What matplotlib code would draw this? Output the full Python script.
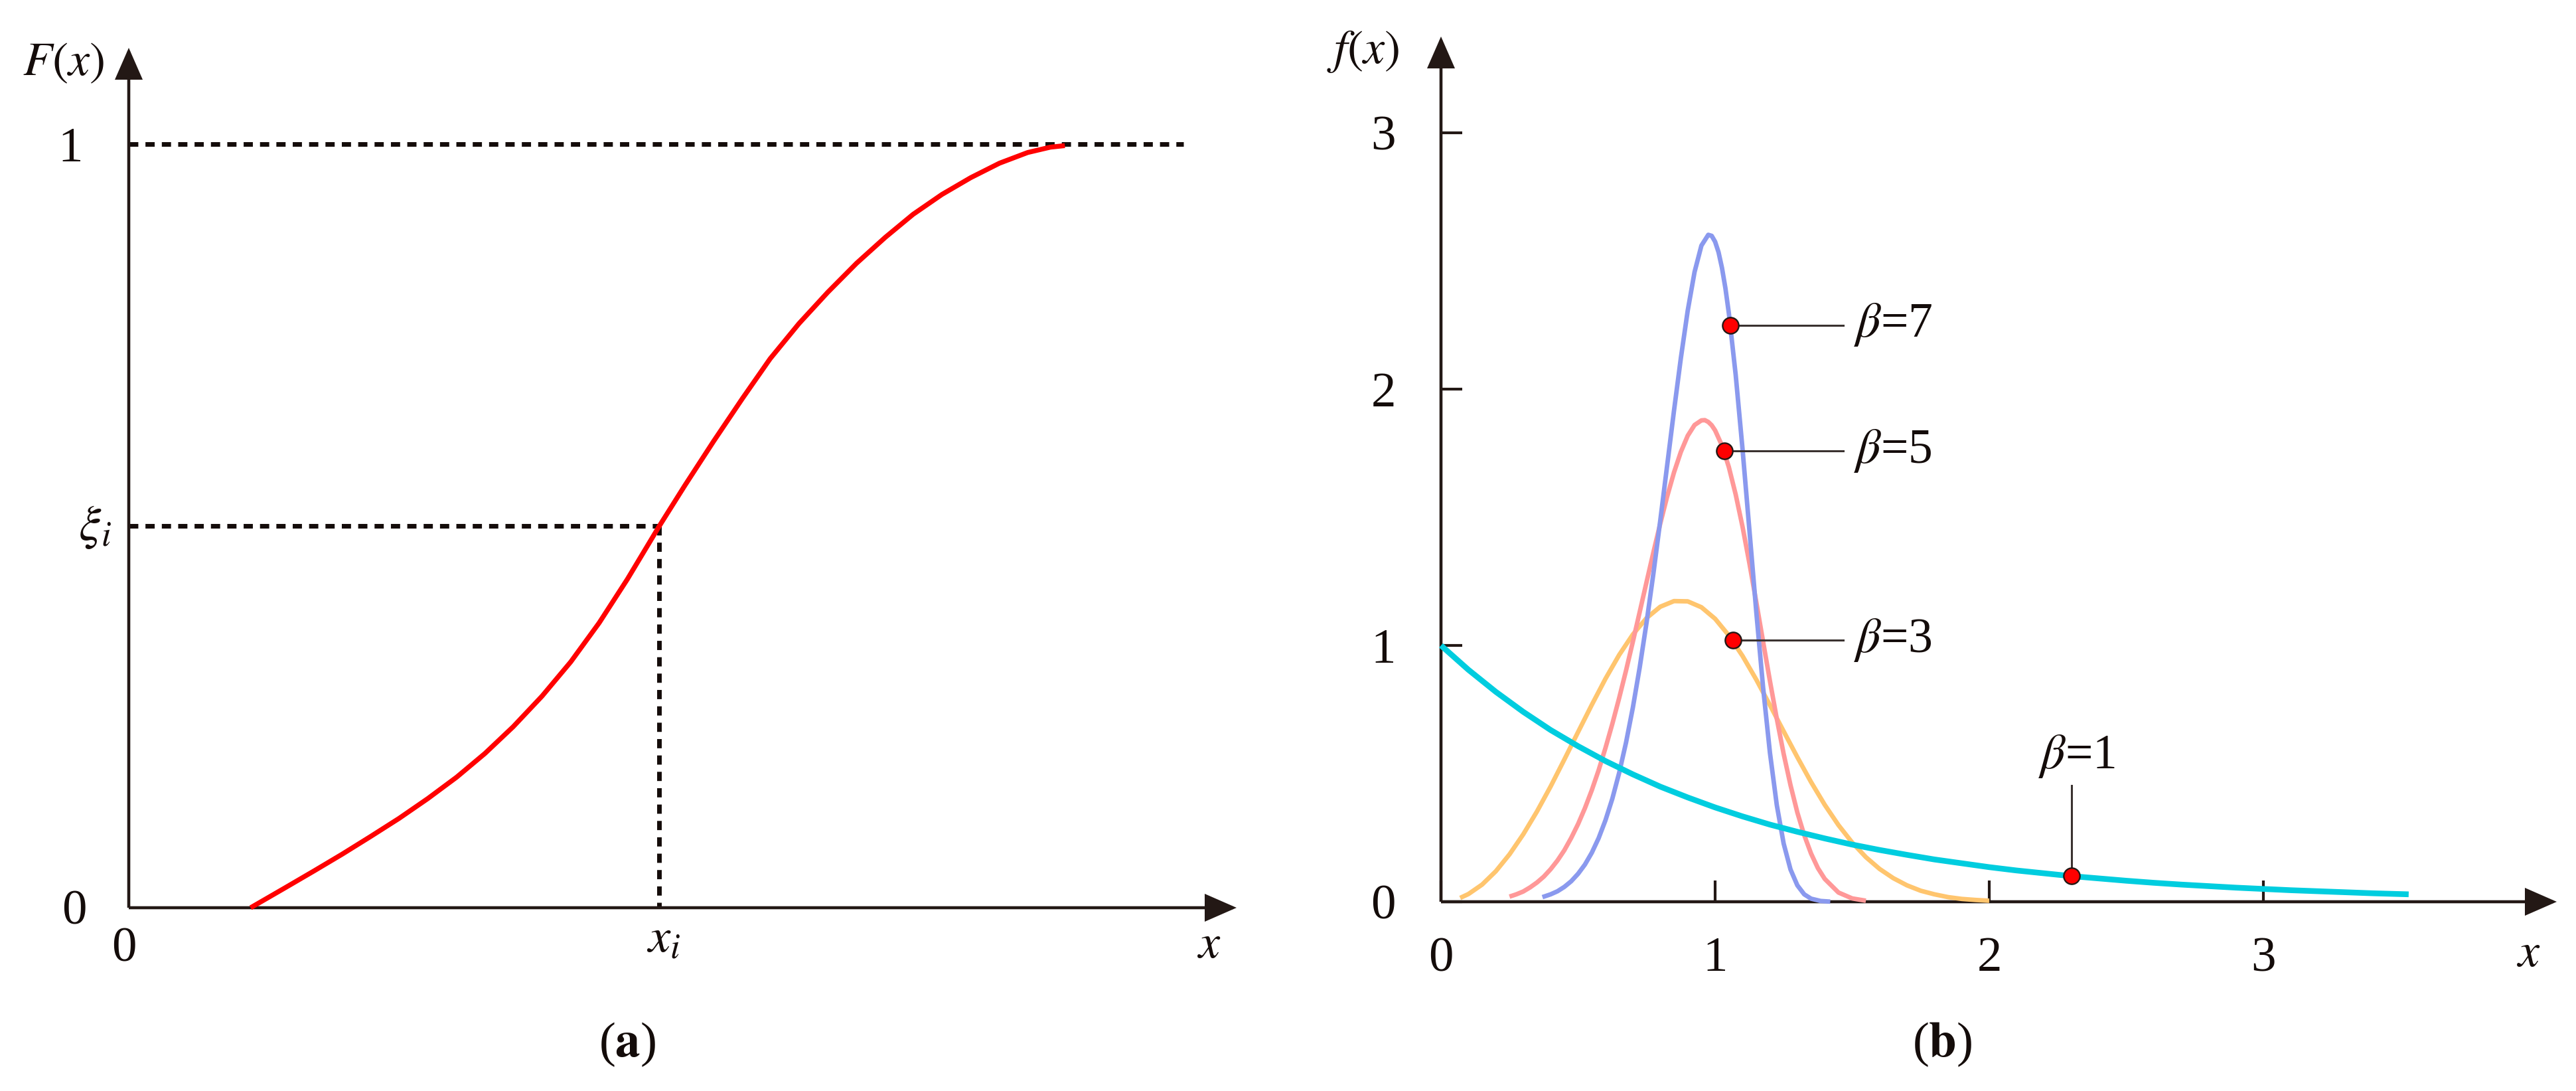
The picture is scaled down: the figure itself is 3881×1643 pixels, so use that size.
import matplotlib
matplotlib.use('Agg')
import matplotlib.pyplot as plt

plt.rcParams['font.family'] = ['Liberation Serif', 'DejaVu Serif']
plt.rcParams['mathtext.fontset'] = 'stix'

# ---------------- data ----------------
# (a) cumulative distribution F(x) (schematic)
cdf_x = [0.110, 0.141, 0.167, 0.1925, 0.218, 0.244, 0.270, 0.296, 0.3215, 0.347,
         0.373, 0.399, 0.4246, 0.450, 0.479, 0.502, 0.528, 0.554, 0.579, 0.605,
         0.631, 0.657, 0.683, 0.708, 0.734, 0.760, 0.786, 0.8115, 0.832, 0.845]
cdf_y = [0.000, 0.026, 0.048, 0.070, 0.093, 0.117, 0.143, 0.171, 0.202, 0.237,
         0.277, 0.322, 0.373, 0.430, 0.500, 0.553, 0.611, 0.667, 0.719, 0.765,
         0.806, 0.844, 0.878, 0.908, 0.934, 0.956, 0.975, 0.989, 0.996, 0.998]
xi_x = 0.479      # x_i
xi_y = 0.5        # xi_i
top_dash_end = 0.952

# (b) probability densities f(x) for beta = 1, 3, 5, 7
b1_x = [0.0, 0.1, 0.2, 0.3, 0.4, 0.5, 0.6, 0.7, 0.8, 0.9, 1.0, 1.1, 1.2, 1.3, 1.4,
        1.5, 1.6, 1.7, 1.8, 1.9, 2.0, 2.1, 2.2, 2.3, 2.4, 2.5, 2.6, 2.7, 2.8, 2.9,
        3.0, 3.1, 3.2, 3.3, 3.4, 3.53]
b1_y = [1.000, 0.905, 0.819, 0.741, 0.670, 0.607, 0.549, 0.497, 0.449, 0.407, 0.368,
        0.333, 0.301, 0.273, 0.247, 0.223, 0.202, 0.183, 0.165, 0.150, 0.135, 0.122,
        0.111, 0.100, 0.091, 0.082, 0.074, 0.067, 0.061, 0.055, 0.050, 0.045, 0.041,
        0.037, 0.033, 0.029]

b3_x = [0.07, 0.10, 0.15, 0.20, 0.25, 0.30, 0.35, 0.40, 0.45, 0.50, 0.55, 0.60, 0.65,
        0.70, 0.75, 0.80, 0.85, 0.90, 0.95, 1.00, 1.05, 1.10, 1.15, 1.20, 1.25, 1.30,
        1.35, 1.40, 1.45, 1.50, 1.55, 1.60, 1.65, 1.70, 1.75, 1.80, 1.85, 1.90, 1.95, 2.00]
b3_y = [0.015, 0.030, 0.067, 0.119, 0.185, 0.263, 0.352, 0.450, 0.555, 0.662, 0.768,
        0.870, 0.963, 1.043, 1.107, 1.151, 1.173, 1.172, 1.149, 1.104, 1.039, 0.959,
        0.867, 0.767, 0.665, 0.564, 0.467, 0.378, 0.299, 0.231, 0.174, 0.128, 0.092,
        0.064, 0.043, 0.029, 0.018, 0.011, 0.007, 0.004]

b5_x = [0.25, 0.275, 0.30, 0.325, 0.35, 0.375, 0.40, 0.425, 0.45, 0.475, 0.50, 0.525,
        0.55, 0.575, 0.60, 0.625, 0.65, 0.675, 0.70, 0.725, 0.75, 0.775, 0.80, 0.825,
        0.85, 0.875, 0.90, 0.925, 0.95, 0.9625, 0.975, 0.9875, 1.00, 1.025, 1.05, 1.075,
        1.10, 1.125, 1.15, 1.175, 1.20, 1.225, 1.25, 1.275, 1.30, 1.325, 1.35, 1.375,
        1.40, 1.45, 1.50, 1.55]
b5_y = [0.020, 0.029, 0.040, 0.056, 0.075, 0.098, 0.127, 0.161, 0.201, 0.249, 0.303,
        0.365, 0.435, 0.513, 0.600, 0.694, 0.795, 0.902, 1.015, 1.131, 1.248, 1.364,
        1.476, 1.581, 1.675, 1.755, 1.818, 1.860, 1.878, 1.879, 1.872, 1.859, 1.839,
        1.780, 1.696, 1.589, 1.463, 1.321, 1.170, 1.015, 0.861, 0.714, 0.577, 0.455,
        0.348, 0.260, 0.188, 0.131, 0.089, 0.036, 0.013, 0.004]

b7_x = [0.37, 0.40, 0.425, 0.45, 0.475, 0.50, 0.525, 0.55, 0.575, 0.60, 0.625, 0.65,
        0.675, 0.70, 0.725, 0.75, 0.775, 0.80, 0.825, 0.85, 0.875, 0.90, 0.925, 0.95,
        0.975, 0.9875, 1.00, 1.0125, 1.025, 1.0375, 1.05, 1.075, 1.10, 1.125, 1.15,
        1.175, 1.20, 1.225, 1.25, 1.275, 1.30, 1.325, 1.35, 1.385, 1.42]
b7_y = [0.018, 0.029, 0.041, 0.058, 0.080, 0.109, 0.145, 0.191, 0.248, 0.318, 0.402,
        0.503, 0.621, 0.758, 0.915, 1.090, 1.282, 1.488, 1.702, 1.916, 2.121, 2.306,
        2.457, 2.560, 2.602, 2.598, 2.575, 2.534, 2.473, 2.394, 2.297, 2.056, 1.766,
        1.451, 1.133, 0.836, 0.581, 0.377, 0.227, 0.126, 0.064, 0.029, 0.012, 0.003,
        0.0005]

labels = [r'$\beta$=1', r'$\beta$=3', r'$\beta$=5', r'$\beta$=7']
marker_x = [2.30, 1.065, 1.035, 1.055]
marker_y = [0.100, 1.020, 1.760, 2.250]
colors = ['#00CDDF', '#FFC56E', '#FF9898', '#8A99EE']

x_ticks_b = [0, 1, 2, 3]
y_ticks_b = [0, 1, 2, 3]

# ---------------- figure ----------------
W, H, DPI = 3881, 1643, 100
fig = plt.figure(figsize=(W / DPI, H / DPI), dpi=DPI)
AX = '#231815'
TXT = '#140C0A'
FS = 54
PT = 72.0 / DPI   # points per pixel


def px_axes(x0, ybot, x1, ytop):
    return fig.add_axes([x0 / W, 1 - ybot / H, (x1 - x0) / W, (ybot - ytop) / H])


def arrow_axes(ax):
    style = '-|>,head_length=%.1f,head_width=%.1f' % (40 * PT, 17.5 * PT)
    for end in [(1, 0), (0, 1)]:
        ax.annotate('', xy=end, xytext=(0, 0), xycoords='axes fraction',
                    textcoords='axes fraction',
                    arrowprops=dict(arrowstyle=style, mutation_scale=1, lw=3.3,
                                    color=AX, shrinkA=0, shrinkB=0,
                                    joinstyle='miter', capstyle='butt'))
    for s in ax.spines.values():
        s.set_visible(False)


def lab(ax, s, xy, dx, dy, ha='center', va='baseline', fs=FS):
    ax.annotate(s, xy=xy, xycoords='data', xytext=(dx * PT, dy * PT),
                textcoords='offset points', ha=ha, va=va, fontsize=fs,
                color=TXT, annotation_clip=False)


# ---------- panel (a) ----------
ytopL = (1367 - 72) / 1150
axL = px_axes(194, 1367, 1863, 72)
axL.set_xlim(0, 1)
axL.set_ylim(0, ytopL)
arrow_axes(axL)
axL.set_xticks([])
axL.set_yticks([])

dash_kw = dict(color=TXT, lw=5.0, dashes=(2.0, 1.55), dash_capstyle='butt',
               clip_on=False, zorder=2)
axL.plot([0, top_dash_end], [1, 1], **dash_kw)
axL.plot([0, xi_x], [xi_y, xi_y], **dash_kw)
axL.plot([xi_x, xi_x], [xi_y, 0], **dash_kw)
axL.plot(cdf_x, cdf_y, color='#FF0000', lw=5.3, solid_capstyle='butt',
         solid_joinstyle='round', clip_on=False, zorder=3)

lab(axL, '1', (0, 1), -69, -26, ha='right')
lab(axL, '0', (0, 0), -63, -25, ha='right')
lab(axL, r'$\xi_i$', (0, xi_y), -26, -2, ha='right', va='center')
lab(axL, '0', (0, 0), -7, -81)
lab(axL, r'$x_i$', (xi_x, 0), 6, -68)
lab(axL, r'$x$', (1, 0), -41, -75, fs=52)
lab(axL, r'$F(x)$', (0, ytopL), -99, -41, fs=52)

# ---------- panel (b) ----------
xmaxR = (3852 - 2171) / 413
ymaxR = (1358 - 55) / 386
axR = px_axes(2171, 1358, 3852, 55)
axR.set_xlim(0, xmaxR)
axR.set_ylim(0, ymaxR)
arrow_axes(axR)
axR.set_xticks(x_ticks_b)
axR.set_xticklabels([str(v) for v in x_ticks_b])
axR.set_yticks(y_ticks_b)
axR.set_yticklabels([str(v) for v in y_ticks_b])
axR.tick_params(axis='both', direction='in', length=32 * PT, width=3.0, color=AX,
                labelsize=FS, labelcolor=TXT)
axR.tick_params(axis='x', pad=38)
axR.tick_params(axis='y', pad=49)

series = [(b1_x, b1_y), (b3_x, b3_y), (b5_x, b5_y), (b7_x, b7_y)]
zord = [6, 3, 4, 5]
lws = [6.2, 4.9, 4.9, 4.9]
for (xs, ys), c, z, w in zip(series, colors, zord, lws):
    axR.plot(xs, ys, color=c, lw=w, solid_capstyle='butt', solid_joinstyle='round',
             clip_on=False, zorder=z)

lead_kw = dict(color='#3A3230', lw=2.2, zorder=7, clip_on=False)
lead_end = (2777 - 2171) / 413
text_x = (2793 - 2171) / 413
for i in range(1, 4):
    axR.plot([marker_x[i], lead_end], [marker_y[i], marker_y[i]], **lead_kw)
    axR.text(text_x, marker_y[i], labels[i], ha='left', va='center', fontsize=53,
             color=TXT)
# beta = 1: vertical leader
axR.plot([marker_x[0], marker_x[0]], [marker_y[0], (1358 - 1183) / 386], **lead_kw)
axR.text((3129 - 2171) / 413, (1358 - 1139) / 386, labels[0], ha='center',
         va='center', fontsize=53, color=TXT)

axR.plot(marker_x, marker_y, 'o', ms=17.5, mfc='#FF0000', mec=AX, mew=1.7,
         zorder=8, clip_on=False, linestyle='none')

lab(axR, r'$x$', (xmaxR, 0), -42, -97, fs=52)
lab(axR, r'$f(x)$', (0, ymaxR), -117, -40, fs=52)

# ---------- panel captions ----------
fig.text(945 / W, 1 - 1573 / H, r'($\mathbf{a}$)', ha='center', va='center',
         fontsize=FS, color=TXT)
fig.text(2926 / W, 1 - 1573 / H, r'($\mathbf{b}$)', ha='center', va='center',
         fontsize=FS, color=TXT)

fig.savefig('out.png', dpi=DPI, facecolor='white')
